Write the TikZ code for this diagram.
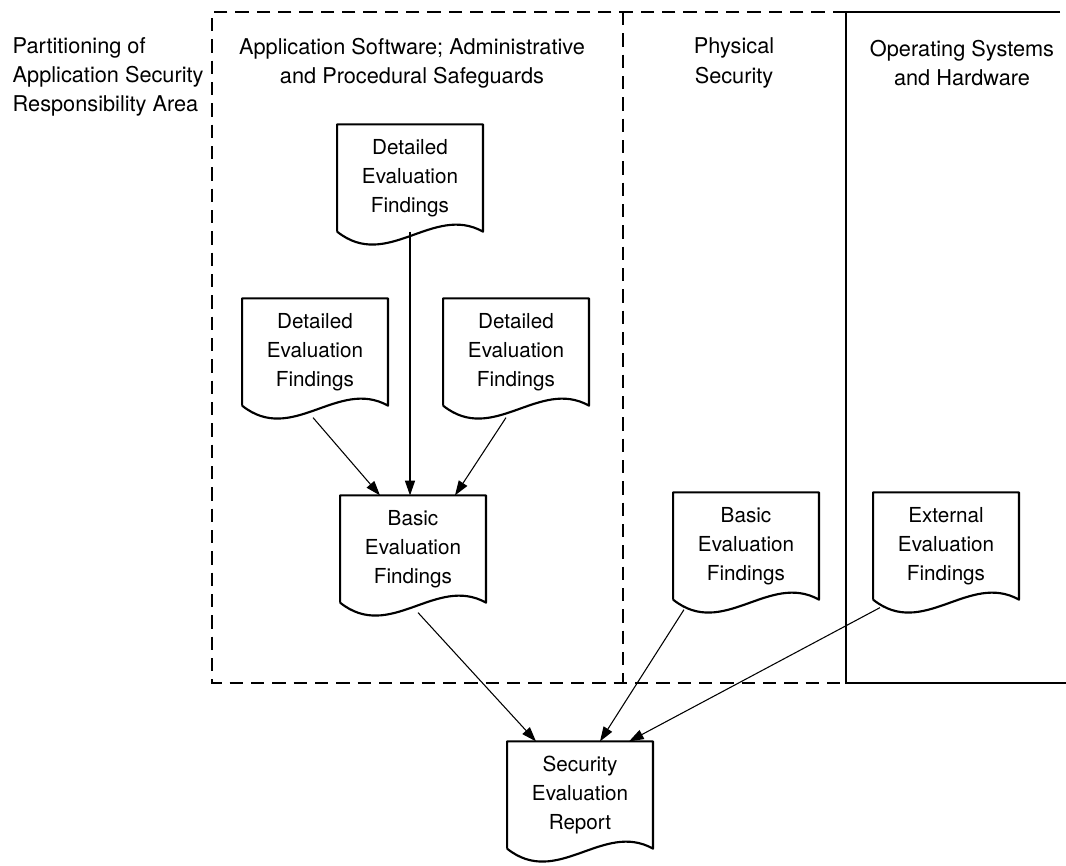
\documentclass[tikz,border=0pt]{standalone}
\usepackage{fontspec}
\setmainfont{TeX Gyre Heros}
\usetikzlibrary{arrows.meta,calc}
\begin{document}
\begin{tikzpicture}[x=0.75pt,y=-0.75pt,font=\fontsize{15.5}{21.7}\selectfont]
\tikzstyle{doc} = [rectangle,minimum width=109pt,minimum height=80pt,align=center,inner sep=0pt] %document
\tikzstyle{lb} = [align=center,font=\fontsize{16.3}{21.9}\selectfont] %heading
\tikzstyle{ar} = [-{Triangle[length=11pt,width=7.5pt]},line width=0.8pt] %arrow
\tikzstyle{dl} = [line width=1.6pt,line join=round] %document outline
\tikzstyle{bx} = [line width=1.1pt] %area line
\tikzstyle{dsh} = [dash pattern=on 10pt off 6pt] %dashed area
\useasboundingbox (0,0) rectangle (1066,865);
\draw[bx,dsh] (846,12) -- (212,12) -- (212,683) -- (846,683);
\draw[bx,dsh] (623,12) -- (623,683);
\draw[bx] (1060,12) -- (846,12) -- (846,683) -- (1066,683);
\node[lb,align=left,anchor=west](pa)at(8,77){Partitioning of\\Application Security\\Responsibility Area};
\node[lb](as)at(412,63){Application Software; Administrative\\and Procedural Safeguards};
\node[lb](ps)at(734,63){Physical\\Security};
\node[lb](os)at(962,63){Operating Systems\\and Hardware};
\node[doc](da)at(410,178){Detailed\\Evaluation\\Findings};
\node[doc](db)at(315,352){Detailed\\Evaluation\\Findings};
\node[doc](dc)at(516,352){Detailed\\Evaluation\\Findings};
\node[doc](ba)at(413,549){Basic\\Evaluation\\Findings};
\node[doc](bb)at(746,546){Basic\\Evaluation\\Findings};
\node[doc](ea)at(946,546){External\\Evaluation\\Findings};
\node[doc](sr)at(580,795){Security\\Evaluation\\Report};
\foreach \n in {da,db,dc,ba,bb,ea,sr}
  \draw[dl] (\n.south west) -- (\n.north west) -- (\n.north east) -- (\n.south east)
    .. controls +(-50,-28) and +(50,40) .. (\n.south west);
\draw[ar] (da.south) -- (da.south |- ba.north);
\draw[ar] ($(db.south)+(-2,12)$) -- ($(ba.north)+(-33,0)$);
\draw[ar] ($(dc.south)+(-10,12)$) -- ($(ba.north)+(42,0)$);
\draw[ar] ($(ba.south)+(5,10)$) -- ($(sr.north)+(-44,0)$);
\draw[ar] ($(bb.south)+(-62,10)$) -- ($(sr.north)+(20,0)$);
\draw[ar] ($(ea.south)+(-66,8)$) -- ($(sr.north)+(49,0)$);
\end{tikzpicture}
\end{document}
